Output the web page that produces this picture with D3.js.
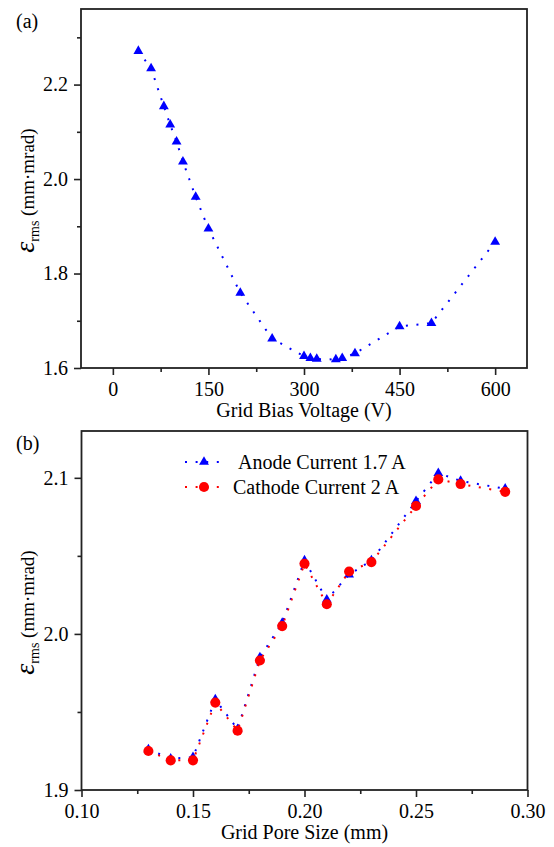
<!DOCTYPE html>
<html>
<head>
<meta charset="utf-8">
<script src="https://cdn.jsdelivr.net/npm/d3@7"></script>
<style>
  body { margin: 0; background: #fff; }
</style>
</head>
<body>
<script>
// Panel (a): emittance vs grid bias voltage
var biasVoltage = [40, 60, 80, 90, 100, 110, 130, 150, 200, 250, 300, 310, 320, 350, 360, 380, 450, 500, 600];
var emittanceBias = [2.271, 2.234, 2.154, 2.115, 2.079, 2.037, 1.962, 1.895, 1.759, 1.662, 1.625, 1.621, 1.619, 1.618, 1.621, 1.631, 1.688, 1.695, 1.867];
var biasTicks = [0, 150, 300, 450, 600];
var biasMinorTicks = [75, 225, 375, 525];
var emitTicksA = [1.6, 1.8, 2.0, 2.2];
var emitMinorTicksA = [1.7, 1.9, 2.1, 2.3];

// Panel (b): emittance vs grid pore size
var poreSize = [0.13, 0.14, 0.15, 0.16, 0.17, 0.18, 0.19, 0.20, 0.21, 0.22, 0.23, 0.25, 0.26, 0.27, 0.29];
var anodeEmit = [1.926, 1.920, 1.921, 1.958, 1.939, 1.985, 2.007, 2.047, 2.022, 2.038, 2.047, 2.085, 2.103, 2.098, 2.093];
var cathodeEmit = [1.925, 1.919, 1.919, 1.956, 1.938, 1.983, 2.005, 2.045, 2.019, 2.040, 2.046, 2.082, 2.099, 2.096, 2.091];
var poreTicks = [0.10, 0.15, 0.20, 0.25, 0.30];
var poreMinorTicks = [0.125, 0.175, 0.225, 0.275];
var emitTicksB = [1.9, 2.0, 2.1];
var emitMinorTicksB = [1.95, 2.05];
var seriesNames = ["Anode Current 1.7 A", "Cathode Current 2 A"];

var width = 554, height = 847;
var axisColor = "#222";
var dots = "2,8.6";
var serif = "'Liberation Serif', 'Times New Roman', 'DejaVu Serif', serif";

var svg = d3.select("body").append("svg")
  .attr("width", width)
  .attr("height", height)
  .attr("font-family", serif)
  .style("font-family", serif);

// draws frame, ticks, labels for one panel and returns its scales
function drawPanel(box, xDomain, yDomain, xt, xmt, yt, ymt, xFmt, yFmt, xTitle, tag) {
  var g = svg.append("g");
  var x = d3.scaleLinear().domain(xDomain).range([box.left, box.right]);
  var y = d3.scaleLinear().domain(yDomain).range([box.bottom, box.top]);

  var minorX = d3.axisBottom(x).tickValues(xmt).tickSize(4).tickFormat("").tickSizeOuter(0);
  var minorY = d3.axisLeft(y).tickValues(ymt).tickSize(4).tickFormat("").tickSizeOuter(0);
  var majorX = d3.axisBottom(x).tickValues(xt).tickSize(7).tickPadding(6.5).tickFormat(d3.format(xFmt)).tickSizeOuter(0);
  var majorY = d3.axisLeft(y).tickValues(yt).tickSize(7).tickPadding(6).tickFormat(d3.format(yFmt)).tickSizeOuter(0);

  [minorX, majorX].forEach(function (ax) {
    g.append("g").attr("transform", "translate(0," + box.bottom + ")").call(ax);
  });
  [minorY, majorY].forEach(function (ax) {
    g.append("g").attr("transform", "translate(" + box.left + ",0)").call(ax);
  });
  g.selectAll(".domain").remove();
  g.selectAll(".tick line").attr("stroke", axisColor).attr("stroke-width", 1.6);
  g.selectAll(".tick text")
    .style("font-family", serif)
    .style("font-size", "20px")
    .attr("fill", "#000");

  // frame
  g.append("rect")
    .attr("x", box.left).attr("y", box.top)
    .attr("width", box.right - box.left).attr("height", box.bottom - box.top)
    .attr("fill", "none").attr("stroke", axisColor).attr("stroke-width", 1.8);

  g.append("text")
    .attr("x", (box.left + box.right) / 2)
    .attr("y", box.bottom + 49)
    .attr("text-anchor", "middle")
    .style("font-family", serif)
    .style("font-size", "20px")
    .text(xTitle);

  var yl = g.append("text")
    .attr("transform", "translate(34," + ((box.top + box.bottom) / 2 + 2) + ") rotate(-90)")
    .attr("text-anchor", "middle")
    .style("font-family", serif)
    .style("font-size", "19px");
  yl.append("tspan").style("font-style", "italic").style("font-size", "28px").text("ε");
  yl.append("tspan").style("font-size", "14px").attr("dy", 5).text("rms");
  yl.append("tspan").attr("dy", -5).text(" (mm·mrad)");

  g.append("text")
    .attr("x", 16).attr("y", box.top + 19)
    .style("font-family", serif)
    .style("font-size", "20px")
    .text(tag);

  return { x: x, y: y };
}

function drawSeries(sc, xs, ys, color, symbol, size) {
  var pts = xs.map(function (v, i) { return [v, ys[i]]; });
  var line = d3.line().x(function (d) { return sc.x(d[0]); }).y(function (d) { return sc.y(d[1]); });
  svg.append("path")
    .datum(pts)
    .attr("d", line)
    .attr("fill", "none")
    .attr("stroke", color)
    .attr("stroke-width", 2)
    .attr("stroke-dasharray", dots);
  svg.append("g").selectAll("path")
    .data(pts)
    .enter().append("path")
    .attr("d", d3.symbol().type(symbol).size(size))
    .attr("transform", function (d) { return "translate(" + sc.x(d[0]) + "," + sc.y(d[1]) + ")"; })
    .attr("fill", color);
}

var boxA = { left: 81, right: 527, top: 9, bottom: 368 };
var scA = drawPanel(boxA, [-50, 650], [1.6, 2.36], biasTicks, biasMinorTicks, emitTicksA, emitMinorTicksA,
  "d", ".1f", "Grid Bias Voltage (V)", "(a)");
drawSeries(scA, biasVoltage, emittanceBias, "#0000ff", d3.symbolTriangle, 42);

var boxB = { left: 81.5, right: 527.5, top: 431, bottom: 790 };
var scB = drawPanel(boxB, [0.10, 0.30], [1.9, 2.13], poreTicks, poreMinorTicks, emitTicksB, emitMinorTicksB,
  ".2f", ".1f", "Grid Pore Size (mm)", "(b)");
drawSeries(scB, poreSize, anodeEmit, "#0000ff", d3.symbolTriangle, 42);
drawSeries(scB, poreSize, cathodeEmit, "#ff0000", d3.symbolCircle, 80);

// legend
var legendColors = ["#0000ff", "#ff0000"];
var legendSymbols = [d3.symbolTriangle, d3.symbolCircle];
var legendSizes = [42, 80];
var legend = svg.append("g").attr("transform", "translate(185,462)");
seriesNames.forEach(function (name, i) {
  var row = legend.append("g").attr("transform", "translate(0," + (i * 25) + ")");
  row.append("line")
    .attr("x1", 0).attr("x2", 37).attr("y1", 0).attr("y2", 0)
    .attr("stroke", legendColors[i]).attr("stroke-width", 2)
    .attr("stroke-dasharray", dots);
  row.append("path")
    .attr("d", d3.symbol().type(legendSymbols[i]).size(legendSizes[i]))
    .attr("transform", "translate(19,0)")
    .attr("fill", legendColors[i]);
  row.append("text")
    .attr("x", i === 0 ? 53 : 48)
    .attr("y", 7)
    .style("font-family", serif)
    .style("font-size", "20px")
    .text(name);
});
</script>
</body>
</html>
